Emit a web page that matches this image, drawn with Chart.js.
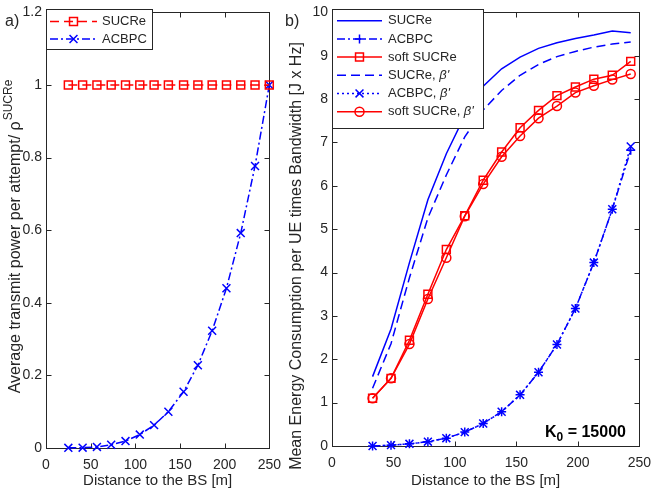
<!DOCTYPE html>
<html>
<head>
<meta charset="utf-8">
<script src="https://cdn.jsdelivr.net/npm/chart.js"></script>
<style>
  html, body { margin: 0; padding: 0; background: #fff; }
  #wrapA { position: absolute; left: 0; top: 0; }
  #wrapB { position: absolute; left: 280px; top: 0; }
</style>
</head>
<body>
<div id="wrapA"><canvas id="chartA" width="290" height="495"></canvas></div>
<div id="wrapB"><canvas id="chartB" width="380" height="495"></canvas></div>
<script>
// panel a) data
const distA = [25, 41, 57, 73, 89, 105, 121, 137, 154, 170, 186, 202, 218, 234, 250]
const sucreA = [1, 1, 1, 1, 1, 1, 1, 1, 1, 1, 1, 1, 1, 1, 1]
const acbpcA = [0.0005, 0.001, 0.003, 0.009, 0.019, 0.037, 0.063, 0.10, 0.155, 0.228, 0.323, 0.44, 0.592, 0.777, 1.0]

// panel b) data
const distB = [33, 48, 63, 78, 93, 108, 123, 138, 153, 168, 183, 198, 213, 228, 243]
const sucreB = [1.60, 2.70, 4.23, 5.68, 6.74, 7.62, 8.30, 8.70, 8.97, 9.17, 9.30, 9.40, 9.48, 9.57, 9.53]
const acbpcB = [0.0, 0.02, 0.05, 0.10, 0.18, 0.32, 0.52, 0.79, 1.18, 1.70, 2.34, 3.17, 4.23, 5.46, 6.82]
const softB = [1.10, 1.56, 2.44, 3.50, 4.53, 5.31, 6.13, 6.78, 7.34, 7.74, 8.08, 8.28, 8.46, 8.55, 8.87]
const sucreBetaB = [1.33, 2.36, 3.88, 5.26, 6.25, 7.13, 7.75, 8.20, 8.55, 8.80, 8.98, 9.10, 9.20, 9.27, 9.32]
const acbpcBetaB = [0.0, 0.02, 0.05, 0.10, 0.18, 0.32, 0.52, 0.79, 1.18, 1.70, 2.34, 3.17, 4.23, 5.46, 6.91]
const softBetaB = [1.10, 1.56, 2.35, 3.39, 4.34, 5.30, 6.04, 6.67, 7.15, 7.56, 7.84, 8.15, 8.31, 8.45, 8.58]

const xTicks = [0, 50, 100, 150, 200, 250]

const FONT = '"Liberation Sans", Arial, Helvetica, sans-serif'
const TEXT = '#262626'
const RED = '#ff0000'
const BLUE = '#0000ff'

function pts(xs, ys) {
  return xs.map((x, i) => ({ x: x, y: ys[i] }))
}

function line(label, xs, ys, color, dash, style, radius) {
  return {
    label: label,
    data: pts(xs, ys),
    borderColor: color,
    borderWidth: 1.5,
    borderDash: dash,
    pointStyle: style || 'circle',
    pointRadius: radius || 0,
    pointBorderColor: color,
    pointBackgroundColor: 'rgba(0,0,0,0)',
    pointBorderWidth: 1.5,
    tension: 0,
    clip: false
  }
}

// same geometry as Chart.js point styles
function drawMarker(ctx, style, x, y, r) {
  ctx.beginPath()
  if (style === 'rect') {
    const s = r * Math.SQRT1_2
    ctx.rect(x - s, y - s, 2 * s, 2 * s)
  } else if (style === 'circle') {
    ctx.arc(x, y, r, 0, Math.PI * 2)
  } else if (style === 'cross') {
    ctx.moveTo(x - r, y); ctx.lineTo(x + r, y)
    ctx.moveTo(x, y - r); ctx.lineTo(x, y + r)
  } else if (style === 'crossRot') {
    const s = r * Math.SQRT1_2
    ctx.moveTo(x - s, y - s); ctx.lineTo(x + s, y + s)
    ctx.moveTo(x - s, y + s); ctx.lineTo(x + s, y - s)
  }
  ctx.stroke()
}

function drawFrame(chart) {
  const ctx = chart.ctx, a = chart.chartArea
  const sx = chart.scales.x, sy = chart.scales.y
  const L = Math.round(a.left) + 0.5, R = Math.round(a.right) + 0.5
  const T = Math.round(a.top) + 0.5, B = Math.round(a.bottom) + 0.5
  ctx.save()
  ctx.strokeStyle = TEXT
  ctx.lineWidth = 1
  ctx.strokeRect(L, T, R - L, B - T)
  ctx.beginPath()
  sx.ticks.forEach(t => {
    const p = Math.round(sx.getPixelForValue(t.value)) + 0.5
    ctx.moveTo(p, B); ctx.lineTo(p, B - 5)
    ctx.moveTo(p, T); ctx.lineTo(p, T + 5)
  })
  sy.ticks.forEach(t => {
    const p = Math.round(sy.getPixelForValue(t.value)) + 0.5
    ctx.moveTo(L, p); ctx.lineTo(L + 5, p)
    ctx.moveTo(R, p); ctx.lineTo(R - 5, p)
  })
  ctx.stroke()
  ctx.restore()
}

function drawLegend(chart, o) {
  const ctx = chart.ctx
  ctx.save()
  ctx.fillStyle = '#fff'
  ctx.fillRect(o.x, o.y, o.w, o.h)
  ctx.strokeStyle = TEXT
  ctx.lineWidth = 1
  ctx.strokeRect(o.x + 0.5, o.y + 0.5, o.w, o.h)
  chart.data.datasets.forEach((ds, i) => {
    const y = o.rows[i]
    ctx.strokeStyle = ds.borderColor
    ctx.lineWidth = ds.borderWidth
    ctx.setLineDash(ds.borderDash || [])
    ctx.beginPath()
    ctx.moveTo(o.lx0, y); ctx.lineTo(o.lx1, y)
    ctx.stroke()
    ctx.setLineDash([])
    if (ds.pointRadius > 0) {
      ctx.lineWidth = ds.pointBorderWidth
      drawMarker(ctx, ds.pointStyle, (o.lx0 + o.lx1) / 2, y, ds.pointRadius)
    }
    ctx.fillStyle = TEXT
    ctx.textBaseline = 'middle'
    ctx.textAlign = 'left'
    const parts = ds.label.split("β'")
    ctx.font = o.size + 'px ' + FONT
    ctx.fillText(parts[0], o.tx, y)
    if (parts.length > 1) {
      const w = ctx.measureText(parts[0]).width
      ctx.font = 'italic ' + o.size + 'px ' + FONT
      ctx.fillText("β'", o.tx + w, y)
    }
  })
  ctx.restore()
}

function drawYTitle(ctx, x, cy, main, sup, size) {
  ctx.save()
  ctx.translate(x, cy)
  ctx.rotate(-Math.PI / 2)
  ctx.fillStyle = TEXT
  ctx.textBaseline = 'middle'
  ctx.textAlign = 'left'
  ctx.font = size + 'px ' + FONT
  const w1 = ctx.measureText(main).width
  let w2 = 0
  const supSize = Math.round(size * 0.75)
  if (sup) {
    ctx.font = supSize + 'px ' + FONT
    w2 = ctx.measureText(sup).width
  }
  const start = -(w1 + w2) / 2
  ctx.font = size + 'px ' + FONT
  ctx.fillText(main, start, 0)
  if (sup) {
    ctx.font = supSize + 'px ' + FONT
    ctx.fillText(sup, start + w1 + 1, -size * 0.45)
  }
  ctx.restore()
}

function drawText(ctx, txt, x, y, font, align) {
  ctx.save()
  ctx.fillStyle = TEXT
  ctx.font = font
  ctx.textAlign = align || 'left'
  ctx.textBaseline = 'middle'
  ctx.fillText(txt, x, y)
  ctx.restore()
}

const matlabLook = {
  id: 'matlabLook',
  beforeDatasetsDraw(chart) {
    drawFrame(chart)
  },
  afterDatasetsDraw(chart, args, opts) {
    const ctx = chart.ctx, a = chart.chartArea
    drawLegend(chart, opts.legend)
    drawYTitle(ctx, opts.yTitleX, opts.yTitleY, opts.yTitle, opts.ySup, 16)
    drawText(ctx, 'Distance to the BS [m]', (a.left + a.right) / 2, 481, '15px ' + FONT, 'center')
    drawText(ctx, opts.panel, opts.panelX, 22, '16px ' + FONT)
    if (opts.k0) {
      ctx.save()
      ctx.fillStyle = '#000'
      ctx.textBaseline = 'alphabetic'
      ctx.font = 'bold 16px ' + FONT
      let x = opts.k0.x
      ctx.fillText('K', x, opts.k0.y)
      x += ctx.measureText('K').width
      ctx.font = 'bold 12px ' + FONT
      ctx.fillText('0', x, opts.k0.y + 4)
      x += ctx.measureText('0').width
      ctx.font = 'bold 16px ' + FONT
      ctx.fillText(' = 15000', x, opts.k0.y)
      ctx.restore()
    }
  }
}

function scalesFor(yMax, yStep, leftW, bottomY) {
  return {
    x: {
      type: 'linear', min: 0, max: 250,
      afterBuildTicks: s => { s.ticks = xTicks.map(v => ({ value: v })) },
      afterFit: s => { s.height = 495 - bottomY },
      grid: { display: false, drawTicks: false },
      border: { display: false },
      ticks: { color: TEXT, font: { family: FONT, size: 14 }, padding: 9, maxRotation: 0 }
    },
    y: {
      type: 'linear', min: 0, max: yMax,
      afterFit: s => { s.width = leftW },
      grid: { display: false, drawTicks: false },
      border: { display: false },
      ticks: {
        stepSize: yStep, color: TEXT, font: { family: FONT, size: 14 }, padding: 4,
        callback: v => String(Number(v.toFixed(2)))
      }
    }
  }
}

new Chart(document.getElementById('chartA'), {
  type: 'line',
  data: {
    datasets: [
      line('SUCRe', distA, sucreA, RED, [9, 5], 'rect', 5.6),
      line('ACBPC', distA, acbpcA, BLUE, [8, 3, 2, 3], 'crossRot', 5.6)
    ]
  },
  options: {
    responsive: false,
    animation: false,
    events: [],
    layout: { padding: { top: 9, right: 16, left: 0, bottom: 0 } },
    scales: scalesFor(1.2, 0.2, 46, 448),
    plugins: {
      legend: { display: false },
      tooltip: { enabled: false },
      matlabLook: {
        legend: { x: 46, y: 9, w: 106, h: 40, rows: [21.5, 39], lx0: 50, lx1: 97, tx: 102, size: 13 },
        yTitle: 'Average transmit power per attempt/ ρ', ySup: 'SUCRe', yTitleX: 16, yTitleY: 237,
        panel: 'a)', panelX: 5
      }
    }
  },
  plugins: [matlabLook]
})

new Chart(document.getElementById('chartB'), {
  type: 'line',
  data: {
    datasets: [
      line('SUCRe', distB, sucreB, BLUE, [], null, 0),
      line('ACBPC', distB, acbpcB, BLUE, [8, 3, 2, 3], 'cross', 4.5),
      line('soft SUCRe', distB, softB, RED, [], 'rect', 5.6),
      line("SUCRe, β'", distB, sucreBetaB, BLUE, [9, 5], null, 0),
      line("ACBPC, β'", distB, acbpcBetaB, BLUE, [2, 3], 'crossRot', 5.6),
      line("soft SUCRe, β'", distB, softBetaB, RED, [], 'circle', 4.5)
    ]
  },
  options: {
    responsive: false,
    animation: false,
    events: [],
    layout: { padding: { top: 9, right: 16, left: 0, bottom: 0 } },
    scales: scalesFor(10, 1, 52, 446),
    plugins: {
      legend: { display: false },
      tooltip: { enabled: false },
      matlabLook: {
        legend: { x: 52, y: 9, w: 151, h: 119, rows: [20.7, 39, 57, 75.2, 93.4, 111.7], lx0: 57, lx1: 102, tx: 108, size: 13 },
        yTitle: 'Mean Energy Consumption per UE times Bandwidth [J x Hz]', ySup: '', yTitleX: 17, yTitleY: 256,
        panel: 'b)', panelX: 5,
        k0: { x: 265, y: 437 }
      }
    }
  },
  plugins: [matlabLook]
})
</script>
</body>
</html>
